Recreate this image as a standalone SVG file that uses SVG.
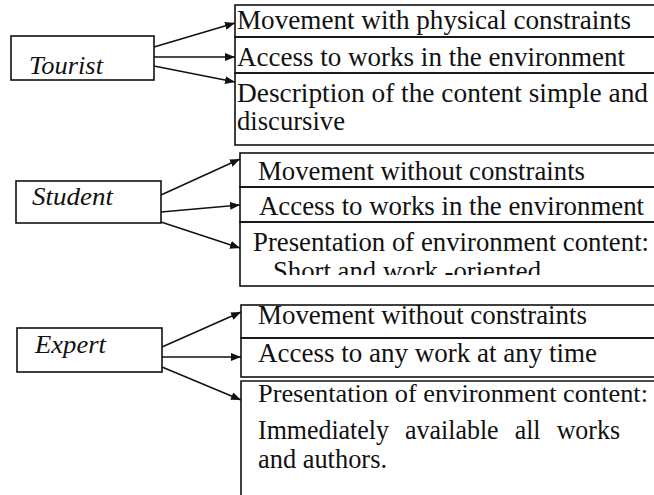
<svg xmlns="http://www.w3.org/2000/svg" width="654" height="495" viewBox="0 0 654 495">
<style>
.bx{fill:none;stroke:#111;stroke-width:1.6}
.t{font-family:"Liberation Serif","Times New Roman",serif;font-size:27px;fill:#111}
.lbl{font-family:"Liberation Serif","Times New Roman",serif;font-size:26px;font-style:italic;fill:#111}
.ar{fill:none;stroke:#111;stroke-width:1.5;marker-end:url(#ah)}
</style>
<defs>
<marker id="ah" viewBox="0 0 10 8" refX="10" refY="4" markerWidth="10" markerHeight="8" markerUnits="userSpaceOnUse" orient="auto">
<path d="M0,0 L10,4 L0,8 z" fill="#111"/>
</marker>
<clipPath id="clipS"><rect x="240" y="222" width="420" height="53"/></clipPath>
</defs>
<rect width="654" height="495" fill="#fff"/>

<g id="tourist">
<rect class="bx" x="11" y="36" width="143" height="44"/>
<text class="lbl" x="29" y="74" textLength="74" lengthAdjust="spacingAndGlyphs">Tourist</text>
</g>
<g id="tourist-items">
<rect class="bx" x="235" y="5" width="430" height="32"/>
<text class="t" x="237" y="29" textLength="394" lengthAdjust="spacingAndGlyphs">Movement with physical constraints</text>
<rect class="bx" x="235" y="37" width="430" height="36"/>
<text class="t" x="237" y="66" textLength="388" lengthAdjust="spacingAndGlyphs">Access to works in the environment</text>
<rect class="bx" x="235" y="73" width="430" height="72"/>
<text class="t" x="237" y="102" textLength="411" lengthAdjust="spacingAndGlyphs">Description of the content simple and</text>
<text class="t" x="237" y="130" textLength="108" lengthAdjust="spacingAndGlyphs">discursive</text>
</g>

<g id="student">
<rect class="bx" x="16" y="181" width="145" height="42"/>
<text class="lbl" x="32" y="205" textLength="81" lengthAdjust="spacingAndGlyphs">Student</text>
</g>
<g id="student-items">
<rect class="bx" x="240" y="153" width="425" height="34"/>
<text class="t" x="258" y="180" textLength="327" lengthAdjust="spacingAndGlyphs">Movement without constraints</text>
<rect class="bx" x="240" y="187" width="425" height="35"/>
<text class="t" x="259" y="215" textLength="385" lengthAdjust="spacingAndGlyphs">Access to works in the environment</text>
<rect class="bx" x="240" y="222" width="425" height="64"/>
<text class="t" x="253" y="251" textLength="396" lengthAdjust="spacingAndGlyphs">Presentation of environment content:</text>
<text class="t" x="273" y="280" textLength="268" lengthAdjust="spacingAndGlyphs" clip-path="url(#clipS)">Short and work -oriented</text>
</g>

<g id="expert">
<rect class="bx" x="17" y="328" width="145" height="44"/>
<text class="lbl" x="35" y="353" textLength="71" lengthAdjust="spacingAndGlyphs">Expert</text>
</g>
<g id="expert-items">
<rect class="bx" x="241" y="305" width="425" height="33"/>
<text class="t" x="258" y="324" textLength="329" lengthAdjust="spacingAndGlyphs">Movement without constraints</text>
<rect class="bx" x="241" y="338" width="425" height="39"/>
<text class="t" x="258" y="362" textLength="339" lengthAdjust="spacingAndGlyphs">Access to any work at any time</text>
<path class="bx" d="M241,495 V381 H660"/>
<text class="t" x="258" y="402" style="font-size:26px" textLength="390" lengthAdjust="spacingAndGlyphs">Presentation of environment content:</text>
<text class="t" x="258" y="439" word-spacing="10" textLength="362" lengthAdjust="spacingAndGlyphs">Immediately available all works</text>
<text class="t" x="258" y="468" textLength="129" lengthAdjust="spacingAndGlyphs">and authors.</text>
</g>

<g id="connectors">
<line class="ar" x1="154" y1="47" x2="235" y2="23"/>
<line class="ar" x1="154" y1="57" x2="235" y2="57"/>
<line class="ar" x1="154" y1="66" x2="235" y2="82"/>
<line class="ar" x1="161" y1="195" x2="240" y2="159"/>
<line class="ar" x1="161" y1="212" x2="240" y2="205"/>
<line class="ar" x1="161" y1="222" x2="240" y2="248"/>
<line class="ar" x1="162" y1="347" x2="241" y2="312"/>
<line class="ar" x1="162" y1="357" x2="241" y2="357"/>
<line class="ar" x1="162" y1="367" x2="241" y2="400"/>
</g>
</svg>
